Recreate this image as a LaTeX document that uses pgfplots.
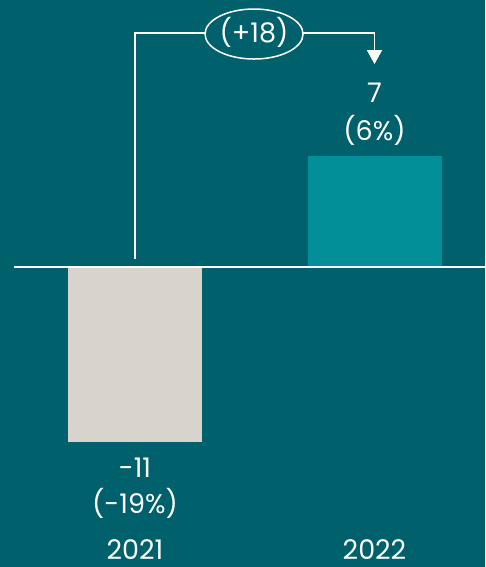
\documentclass[border=0pt]{standalone}
\usepackage{pgfplots}
\pgfplotsset{compat=1.18}
\usetikzlibrary{arrows.meta}
\usepackage{fontspec}
\setmainfont{Poppins}
\definecolor{bg}{HTML}{00606C}
\definecolor{bara}{HTML}{D8D3CD}
\definecolor{barb}{HTML}{038F97}
\begin{document}
\begin{tikzpicture}
\begin{axis}[
 scale only axis, width=485pt, height=567pt,
 xmin=-0.5637, xmax=1.4614, ymin=-18.87, ymax=16.79,
 axis background/.style={fill=bg},
 axis line style={draw=none},
 ytick=\empty, xtick={0,1}, xticklabels={2021,2022}, major tick length=0pt,
 xticklabel style={anchor=base, yshift=7pt, inner sep=0pt, font=\fontsize{27}{30}\selectfont, text=white},
 /pgf/number format/assume math mode=true,
 ybar, bar width=134pt, bar shift=0pt,
 clip=false,
]
\addplot[fill=bara, draw=none] coordinates {(0,-11)};
\addplot[fill=barb, draw=none] coordinates {(1,7)};
\draw[white, line width=1.5pt] (axis cs:-0.5052,0) -- (axis cs:1.4614,0);
\draw[white, line width=1.5pt, -{Triangle[width=15pt,length=14pt]}] (axis cs:0,0.5) -- (axis cs:0,14.71) -- (axis cs:1,14.71) -- (axis cs:1,12.76);
\draw[white, line width=1.5pt, fill=bg] (axis cs:0.497,14.65) ellipse [x radius=49pt, y radius=25pt];
\begin{scope}[every node/.style={text=white, anchor=base, font=\fontsize{27}{30}\selectfont}]
\node at (axis cs:0.497,14.09) {(+18)};
\node at (axis cs:1,10.37) {7};
\node at (axis cs:1,7.98) {(6\%)};
\node at (axis cs:0,-13.21) {-11};
\node at (axis cs:0,-15.50) {(-19\%)};
\end{scope}
\end{axis}
\pgfresetboundingbox
\path (0,0) rectangle (485pt,567pt);
\end{tikzpicture}
\end{document}
